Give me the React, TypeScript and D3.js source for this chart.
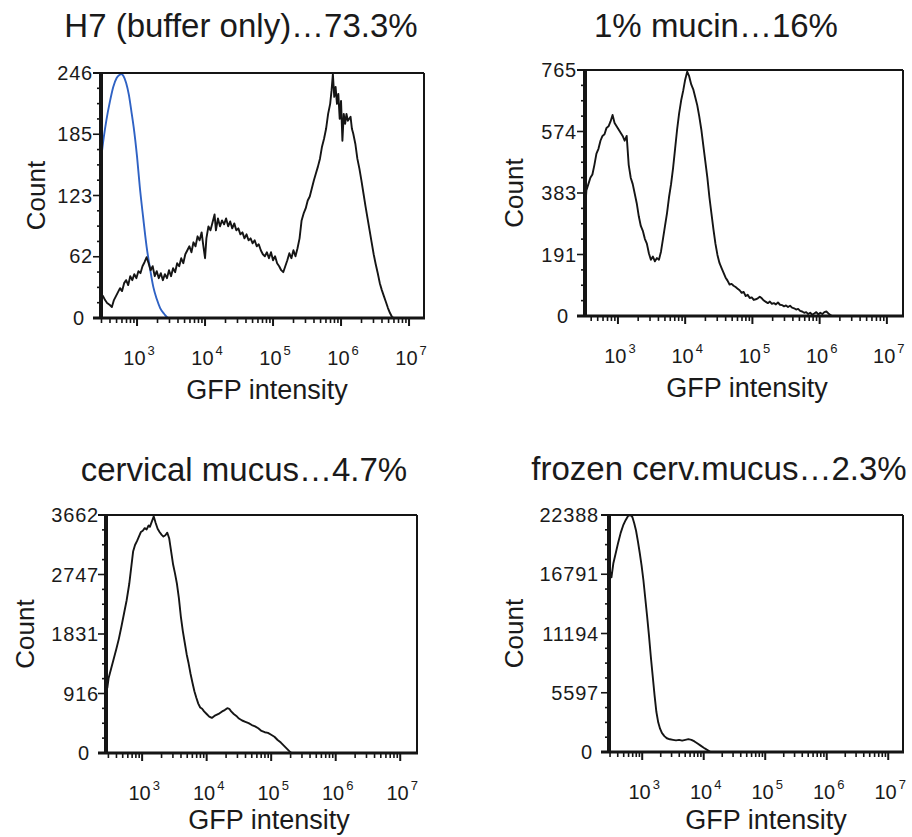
import React from "react";
import * as d3 from "d3";

// ---------- DATA (log10 GFP intensity, count) ----------
const h7LogX = [2.47,2.5,2.53,2.56,2.6,2.63,2.66,2.69,2.72,2.75,2.78,2.81,2.84,2.87,2.9,2.93,2.96,2.99,3.02,3.05,3.08,3.11,3.14,3.17,3.2,3.23,3.26,3.29,3.32,3.35,3.38,3.41,3.44,3.47,3.5,3.53,3.56,3.59,3.62,3.65,3.68,3.71,3.74,3.77,3.8,3.83,3.86,3.89,3.92,3.95,3.97,4.0,4.02,4.05,4.08,4.11,4.14,4.16,4.19,4.22,4.25,4.28,4.31,4.34,4.37,4.4,4.43,4.46,4.49,4.52,4.55,4.58,4.61,4.64,4.67,4.7,4.73,4.76,4.79,4.82,4.85,4.88,4.91,4.94,4.97,5.0,5.03,5.06,5.09,5.12,5.15,5.18,5.21,5.24,5.27,5.3,5.33,5.36,5.39,5.42,5.45,5.48,5.51,5.54,5.57,5.6,5.63,5.66,5.69,5.72,5.75,5.78,5.81,5.84,5.86,5.88,5.9,5.92,5.94,5.96,5.98,6.0,6.02,6.04,6.06,6.08,6.1,6.12,6.14,6.16,6.18,6.21,6.24,6.27,6.3,6.33,6.36,6.39,6.42,6.45,6.48,6.51,6.54,6.57,6.6,6.63,6.66,6.69,6.72,6.75,6.78];
const h7Count = [24,22,18,15,13,11,18,22,26,30,27,35,38,33,42,38,44,40,47,45,52,56,61,55,48,52,42,47,40,45,38,44,40,48,42,50,46,55,52,60,55,64,68,72,66,76,72,82,78,86,75,60,80,92,88,96,104,88,100,92,98,94,100,92,97,90,95,88,90,84,86,80,84,78,80,75,78,72,74,68,64,62,66,60,66,58,62,55,52,48,46,52,58,65,60,68,62,70,80,98,105,110,118,122,130,138,145,152,160,172,180,190,205,215,228,245,222,232,215,225,200,218,178,205,195,205,198,200,202,190,185,175,160,150,138,125,112,100,88,76,64,54,45,35,28,22,16,10,5,1,0];

const bufferLogX = [2.47,2.51,2.55,2.6,2.65,2.7,2.74,2.77,2.8,2.84,2.88,2.92,2.95,3.0,3.04,3.09,3.14,3.19,3.24,3.29,3.34,3.4,3.46,3.5];
const bufferCount = [159,181,199,217,232,241,244,245,243,236,224,206,192,162,132,101,72,50,31,19,10,4,0,0];

const mucinLogX = [2.51,2.53,2.56,2.59,2.62,2.65,2.68,2.71,2.74,2.77,2.8,2.83,2.86,2.89,2.92,2.95,2.98,3.01,3.04,3.07,3.1,3.13,3.16,3.19,3.22,3.25,3.28,3.31,3.34,3.37,3.4,3.43,3.46,3.49,3.52,3.55,3.58,3.61,3.64,3.67,3.7,3.73,3.76,3.79,3.82,3.85,3.88,3.91,3.94,3.97,4.0,4.03,4.06,4.09,4.12,4.15,4.18,4.21,4.24,4.27,4.3,4.33,4.36,4.39,4.42,4.45,4.48,4.51,4.54,4.57,4.6,4.63,4.66,4.69,4.72,4.75,4.78,4.81,4.84,4.87,4.9,4.93,4.96,4.99,5.02,5.05,5.08,5.11,5.14,5.17,5.2,5.23,5.26,5.29,5.32,5.35,5.38,5.41,5.44,5.47,5.5,5.53,5.56,5.59,5.62,5.65,5.68,5.71,5.74,5.77,5.8,5.83,5.86,5.89,5.92,5.95,5.98,6.01,6.04,6.07,6.1,6.13,6.16,6.19];
const mucinCount = [320,390,410,430,440,470,505,520,545,560,565,585,590,605,625,600,590,580,570,560,545,560,470,430,410,380,350,310,280,265,240,225,195,175,185,170,180,175,200,240,280,320,370,410,460,520,580,630,670,700,735,760,745,720,705,680,655,620,580,530,480,430,370,320,270,225,190,165,150,135,120,110,98,100,94,90,85,80,72,75,62,66,56,58,50,52,55,60,55,48,44,40,45,38,40,36,42,35,34,30,33,28,32,26,24,20,22,16,14,10,12,6,10,4,8,12,5,10,6,12,14,8,3,0];

const cervLogX = [2.46,2.48,2.52,2.56,2.6,2.64,2.68,2.72,2.76,2.8,2.83,2.86,2.89,2.92,2.95,2.98,3.01,3.04,3.07,3.1,3.12,3.15,3.18,3.21,3.24,3.27,3.3,3.33,3.36,3.39,3.42,3.45,3.48,3.51,3.54,3.57,3.6,3.63,3.66,3.69,3.72,3.75,3.78,3.81,3.84,3.87,3.9,3.93,3.96,4.0,4.04,4.08,4.12,4.16,4.2,4.24,4.28,4.32,4.35,4.38,4.42,4.46,4.5,4.55,4.6,4.65,4.7,4.75,4.8,4.85,4.9,4.95,5.0,5.05,5.1,5.15,5.2,5.25,5.3,5.32];
const cervCount = [1000,1150,1300,1450,1600,1760,1950,2150,2350,2600,2850,3100,3200,3260,3330,3400,3420,3460,3440,3500,3480,3560,3640,3540,3450,3400,3360,3330,3350,3390,3300,3100,2900,2760,2600,2380,2100,1880,1700,1520,1380,1220,1080,950,850,760,700,680,640,600,560,540,570,590,610,640,660,690,680,640,600,570,530,500,480,460,430,410,380,340,320,310,280,250,200,160,110,60,10,0];

const frozenLogX = [2.48,2.5,2.53,2.57,2.61,2.65,2.69,2.73,2.77,2.81,2.84,2.87,2.9,2.93,2.96,2.99,3.02,3.05,3.08,3.11,3.14,3.17,3.2,3.23,3.26,3.29,3.32,3.36,3.4,3.45,3.5,3.55,3.6,3.65,3.7,3.75,3.8,3.85,3.9,3.95,4.0,4.05,4.08,4.11];
const frozenCount = [17000,16500,17800,18800,19800,20700,21400,21900,22300,22388,22200,21600,20900,19900,18800,17600,16200,14500,12800,11000,9000,7200,5400,3800,2800,2200,1800,1500,1300,1200,1150,1100,1150,1080,1150,1220,1150,1000,800,600,400,220,120,0];

const h7Ticks = [0, 62, 123, 185, 246];
const mucinTicks = [0, 191, 383, 574, 765];
const cervTicks = [0, 916, 1831, 2747, 3662];
const frozenTicks = [0, 5597, 11194, 16791, 22388];

const decadeExponents = [3, 4, 5, 6, 7];
const titles = ["H7 (buffer only)\u202673.3%", "1% mucin\u202616%", "cervical mucus\u20264.7%", "frozen cerv.mucus\u20262.3%"];
const yAxisLabel = "Count";
const xAxisLabel = "GFP intensity";

// ---------- LAYOUT ----------
const FONT = "'Liberation Sans', Arial, Helvetica, sans-serif";
const INK = "#151515";

type Series = { lx: number[]; c: number[]; color: string };
type PanelCfg = {
  title: string; titleX: number; titleY: number;
  left: number; right: number; top: number; bottom: number;
  logDomain: [number, number];
  ticks: number[];
  series: Series[];
  countX: number; gfpX: number; gfpY: number; labelGap: number;
};

const zip = (lx: number[], c: number[]) => lx.map((v, i) => [Math.pow(10, v), c[i]] as [number, number]);

const panels: PanelCfg[] = [
  { title: titles[0], titleX: 241, titleY: 37, left: 101, right: 424, top: 73, bottom: 318,
    logDomain: [2.47, 7.22], ticks: h7Ticks, countX: 36, gfpX: 267, gfpY: 399, labelGap: 8,
    series: [{ lx: bufferLogX, c: bufferCount, color: "#2f62c4" }, { lx: h7LogX, c: h7Count, color: INK }] },
  { title: titles[1], titleX: 716, titleY: 37, left: 585, right: 903, top: 70, bottom: 316,
    logDomain: [2.51, 7.24], ticks: mucinTicks, countX: 514, gfpX: 747, gfpY: 397, labelGap: 8,
    series: [{ lx: mucinLogX, c: mucinCount, color: INK }] },
  { title: titles[2], titleX: 244, titleY: 481, left: 106, right: 417, top: 515, bottom: 753,
    logDomain: [2.44, 7.26], ticks: cervTicks, countX: 25, gfpX: 269, gfpY: 829, labelGap: 7,
    series: [{ lx: cervLogX, c: cervCount, color: INK }] },
  { title: titles[3], titleX: 719, titleY: 480, left: 609, right: 903, top: 515, bottom: 752,
    logDomain: [2.46, 7.24], ticks: frozenTicks, countX: 514, gfpX: 766, gfpY: 829, labelGap: 10,
    series: [{ lx: frozenLogX, c: frozenCount, color: INK }] },
];

function Panel({ p, idx }: { p: PanelCfg; idx: number }) {
  const x = d3.scaleLog().domain([Math.pow(10, p.logDomain[0]), Math.pow(10, p.logDomain[1])]).range([p.left, p.right]);
  const yMax = p.ticks[p.ticks.length - 1];
  const y = d3.scaleLinear().domain([0, yMax]).range([p.bottom, p.top]);
  const line = d3.line<[number, number]>().x(d => x(d[0])).y(d => y(d[1]));
  const smooth = d3.line<[number, number]>().x(d => x(d[0])).y(d => y(d[1])).curve(d3.curveMonotoneX);

  const minorX: number[] = [];
  for (let e = 2; e <= 7; e++) for (let k = 2; k <= 9; k++) {
    const v = k * Math.pow(10, e);
    if (v > x.domain()[0] && v < x.domain()[1]) minorX.push(v);
  }
  const minorY = d3.range(0, 17).map(i => (yMax * i) / 16);
  const clipId = `clip${idx}`;

  return (
    <g>
      <defs>
        <clipPath id={clipId}>
          <rect x={p.left} y={p.top - 2} width={p.right - p.left} height={p.bottom - p.top + 2} />
        </clipPath>
      </defs>
      <text x={p.titleX} y={p.titleY} textAnchor="middle" fontFamily={FONT} fontSize={33} fill="#1a1a1a">{p.title}</text>

      {/* curves */}
      <g clipPath={`url(#${clipId})`}>
        {p.series.map((s, i) => (
          <path key={i} d={(s.color === INK ? line : smooth)(zip(s.lx, s.c)) || ""} fill="none" stroke={s.color}
            strokeWidth={s.color === INK ? 1.9 : 1.9} strokeLinejoin="round" />
        ))}
      </g>

      {/* frame */}
      <line x1={p.left - 8} x2={p.right} y1={p.top} y2={p.top} stroke={INK} strokeWidth={2} />
      <line x1={p.right} x2={p.right} y1={p.top} y2={p.bottom} stroke={INK} strokeWidth={2} />
      <line x1={p.left} x2={p.left} y1={p.top} y2={p.bottom} stroke={INK} strokeWidth={4} />
      <line x1={p.left - 8} x2={p.right + 1} y1={p.bottom} y2={p.bottom} stroke={INK} strokeWidth={3} />

      {/* y ticks */}
      {minorY.map((v, i) => (
        <line key={i} x1={p.left - (i % 4 === 0 ? 8 : 4)} x2={p.left} y1={y(v)} y2={y(v)} stroke={INK} strokeWidth={1.6} />
      ))}
      {p.ticks.map((t, i) => (
        <text key={i} x={p.left - (t === 0 ? 16 : p.labelGap)} y={y(t)} dy="0.36em" textAnchor="end"
          fontFamily={FONT} fontSize={20} letterSpacing={0.8} fill="#1a1a1a">{t}</text>
      ))}

      {/* x ticks */}
      {minorX.map((v, i) => (
        <line key={i} x1={x(v)} x2={x(v)} y1={p.bottom} y2={p.bottom + 5} stroke={INK} strokeWidth={1.6} />
      ))}
      {decadeExponents.map(e => (
        <g key={e}>
          <line x1={x(Math.pow(10, e))} x2={x(Math.pow(10, e))} y1={p.bottom} y2={p.bottom + 8} stroke={INK} strokeWidth={2} />
          <text x={x(Math.pow(10, e)) + 2} y={p.bottom + 47} textAnchor="middle" fontFamily={FONT} fill="#1a1a1a">
            <tspan fontSize={20}>10</tspan>
            <tspan fontSize={13} dy={-10} dx={2}>{e}</tspan>
          </text>
        </g>
      ))}

      {/* axis titles */}
      <text x={p.gfpX} y={p.gfpY} textAnchor="middle" fontFamily={FONT} fontSize={27} fill="#1a1a1a">{xAxisLabel}</text>
      <text transform={`translate(${p.countX + 9},${(p.top + p.bottom) / 2}) rotate(-90)`} textAnchor="middle"
        fontFamily={FONT} fontSize={26} fill="#1a1a1a">{yAxisLabel}</text>
    </g>
  );
}

export default function App() {
  return (
    <svg width={912} height={837} style={{ position: "absolute", left: 0, top: 0, background: "#fff" }}>
      <rect x={0} y={0} width={912} height={837} fill="#fff" />
      {panels.map((p, i) => <Panel key={i} p={p} idx={i} />)}
    </svg>
  );
}
